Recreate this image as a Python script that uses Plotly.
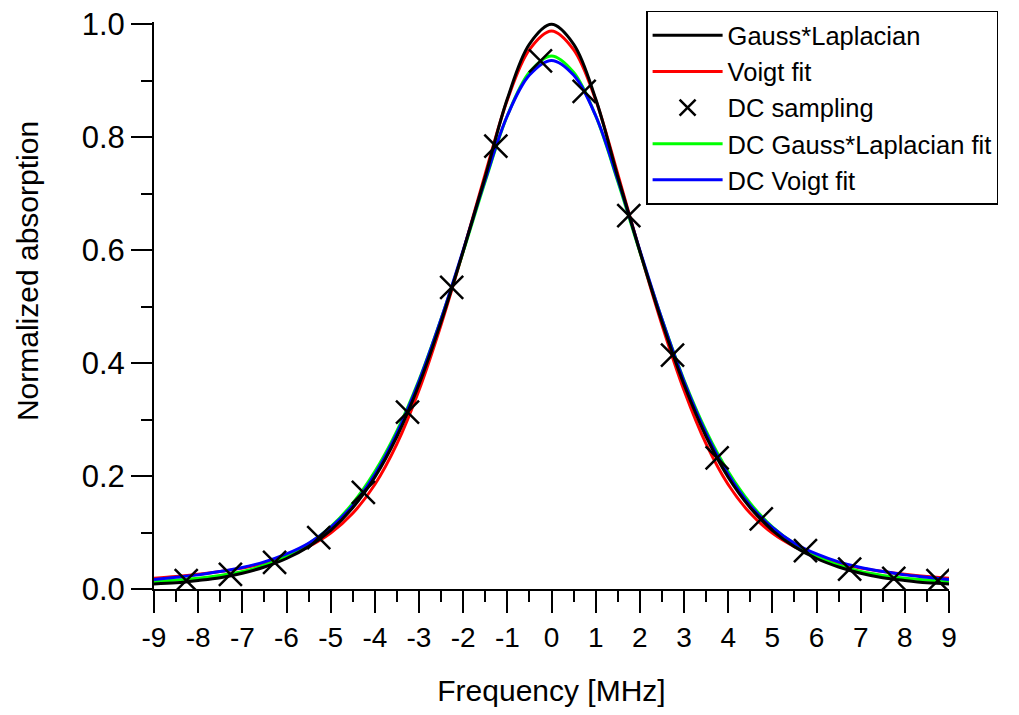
import plotly.graph_objects as go

# Frequency grid for curves [MHz]
freq = [-9.0, -8.5, -8.0, -7.5, -7.0, -6.5, -6.0, -5.5, -5.0, -4.5, -4.0, -3.5, -3.0,
        -2.5, -2.0, -1.5, -1.0, -0.5, 0.0, 0.5, 1.0, 1.5, 2.0, 2.5, 3.0, 3.5, 4.0,
        4.5, 5.0, 5.5, 6.0, 6.5, 7.0, 7.5, 8.0, 8.5, 9.0]

gauss_laplacian = [0.009, 0.011, 0.015, 0.020, 0.028, 0.039, 0.054, 0.075, 0.104, 0.144,
                   0.198, 0.270, 0.362, 0.473, 0.598, 0.730, 0.868, 0.965, 1.000, 0.965,
                   0.868, 0.730, 0.598, 0.473, 0.362, 0.270, 0.198, 0.144, 0.104, 0.075,
                   0.054, 0.039, 0.028, 0.020, 0.015, 0.011, 0.009]

voigt_fit = [0.019, 0.022, 0.026, 0.031, 0.037, 0.046, 0.058, 0.075, 0.099, 0.134,
             0.185, 0.257, 0.352, 0.468, 0.598, 0.735, 0.866, 0.955, 0.988, 0.955,
             0.866, 0.735, 0.598, 0.468, 0.352, 0.257, 0.185, 0.134, 0.099, 0.075,
             0.058, 0.046, 0.037, 0.031, 0.026, 0.022, 0.019]

dc_gl_fit = [0.013, 0.016, 0.019, 0.024, 0.031, 0.042, 0.058, 0.080, 0.110, 0.152,
             0.208, 0.280, 0.370, 0.478, 0.597, 0.722, 0.838, 0.915, 0.944, 0.915,
             0.838, 0.722, 0.597, 0.478, 0.370, 0.280, 0.208, 0.152, 0.110, 0.080,
             0.058, 0.042, 0.031, 0.024, 0.019, 0.016, 0.013]

dc_voigt_fit = [0.017, 0.021, 0.025, 0.031, 0.038, 0.048, 0.062, 0.081, 0.109, 0.148,
                0.203, 0.276, 0.368, 0.478, 0.600, 0.725, 0.838, 0.910, 0.936, 0.910,
                0.838, 0.725, 0.600, 0.478, 0.368, 0.276, 0.203, 0.148, 0.109, 0.081,
                0.062, 0.048, 0.038, 0.031, 0.025, 0.021, 0.017]

# DC sampling points
dc_x = [-8.27, -7.27, -6.27, -5.27, -4.26, -3.26, -2.26, -1.26, -0.25,
        0.74, 1.75, 2.74, 3.75, 4.75, 5.75, 6.75, 7.75, 8.75]
dc_y = [0.015, 0.026, 0.047, 0.091, 0.171, 0.313, 0.534, 0.784, 0.935,
        0.881, 0.661, 0.414, 0.232, 0.124, 0.068, 0.035, 0.019, 0.015]

x_ticks = list(range(-9, 10))
y_ticks = [0.0, 0.2, 0.4, 0.6, 0.8, 1.0]

FONT = "Liberation Sans, Arial, sans-serif"

fig = go.Figure()
fig.add_trace(go.Scatter(x=freq, y=voigt_fit, mode="lines", name="Voigt fit",
                         line=dict(color="#ff0000", width=3, shape="spline"), legendrank=2))
fig.add_trace(go.Scatter(x=freq, y=dc_gl_fit, mode="lines", name="DC Gauss*Laplacian fit",
                         line=dict(color="#00ff00", width=3, shape="spline"), legendrank=4))
fig.add_trace(go.Scatter(x=freq, y=dc_voigt_fit, mode="lines", name="DC Voigt fit",
                         line=dict(color="#0000ff", width=3, shape="spline"), legendrank=5))
fig.add_trace(go.Scatter(x=freq, y=gauss_laplacian, mode="lines", name="Gauss*Laplacian",
                         line=dict(color="#000000", width=3, shape="spline"), legendrank=1))
fig.add_trace(go.Scatter(x=dc_x, y=dc_y, mode="markers", name="DC sampling",
                         marker=dict(symbol="x-thin-open", size=23, color="black",
                                     line=dict(color="black", width=2.5)), legendrank=3))

fig.add_annotation(text="Normalized absorption", textangle=-90,
                   xref="paper", yref="paper", x=-0.159, y=0.56,
                   xanchor="center", yanchor="middle", showarrow=False,
                   font=dict(family=FONT, size=30, color="black"))

fig.update_layout(
    width=1011, height=707,
    margin=dict(l=146, r=70, t=14, b=125.5, autoexpand=False),
    paper_bgcolor="white", plot_bgcolor="white",
    font=dict(family=FONT, size=28, color="black"),
    showlegend=True,
    legend=dict(x=0.619, y=1.02, xanchor="left", yanchor="top",
                bgcolor="white", bordercolor="black", borderwidth=1.5,
                font=dict(family=FONT, size=25.5, color="black"),
                itemwidth=70, tracegroupgap=0),
    xaxis=dict(range=[-9, 9], tickmode="array", tickvals=x_ticks,
               ticktext=[str(v) for v in x_ticks],
               ticks="outside", ticklen=22, tickwidth=2, tickcolor="black",
               showline=True, linecolor="black", linewidth=2, mirror=False,
               showgrid=False, zeroline=False,
               tickfont=dict(family=FONT, size=28),
               minor=dict(dtick=0.5, ticks="outside", ticklen=11, tickwidth=2,
                          tickcolor="black", showgrid=False),
               title=dict(text="Frequency [MHz]", font=dict(family=FONT, size=30), standoff=28)),
    yaxis=dict(range=[0, 1.004], tickmode="array", tickvals=y_ticks,
               ticktext=["0.0", "0.2", "0.4", "0.6", "0.8", "1.0"],
               ticks="outside", ticklen=21, tickwidth=2, tickcolor="black",
               showline=True, linecolor="black", linewidth=2,
               showgrid=False, zeroline=False, ticklabeloverflow="allow",
               tickfont=dict(family=FONT, size=31),
               minor=dict(dtick=0.1, ticks="outside", ticklen=11, tickwidth=2,
                          tickcolor="black", showgrid=False)),
)

fig.write_html("out.html")
